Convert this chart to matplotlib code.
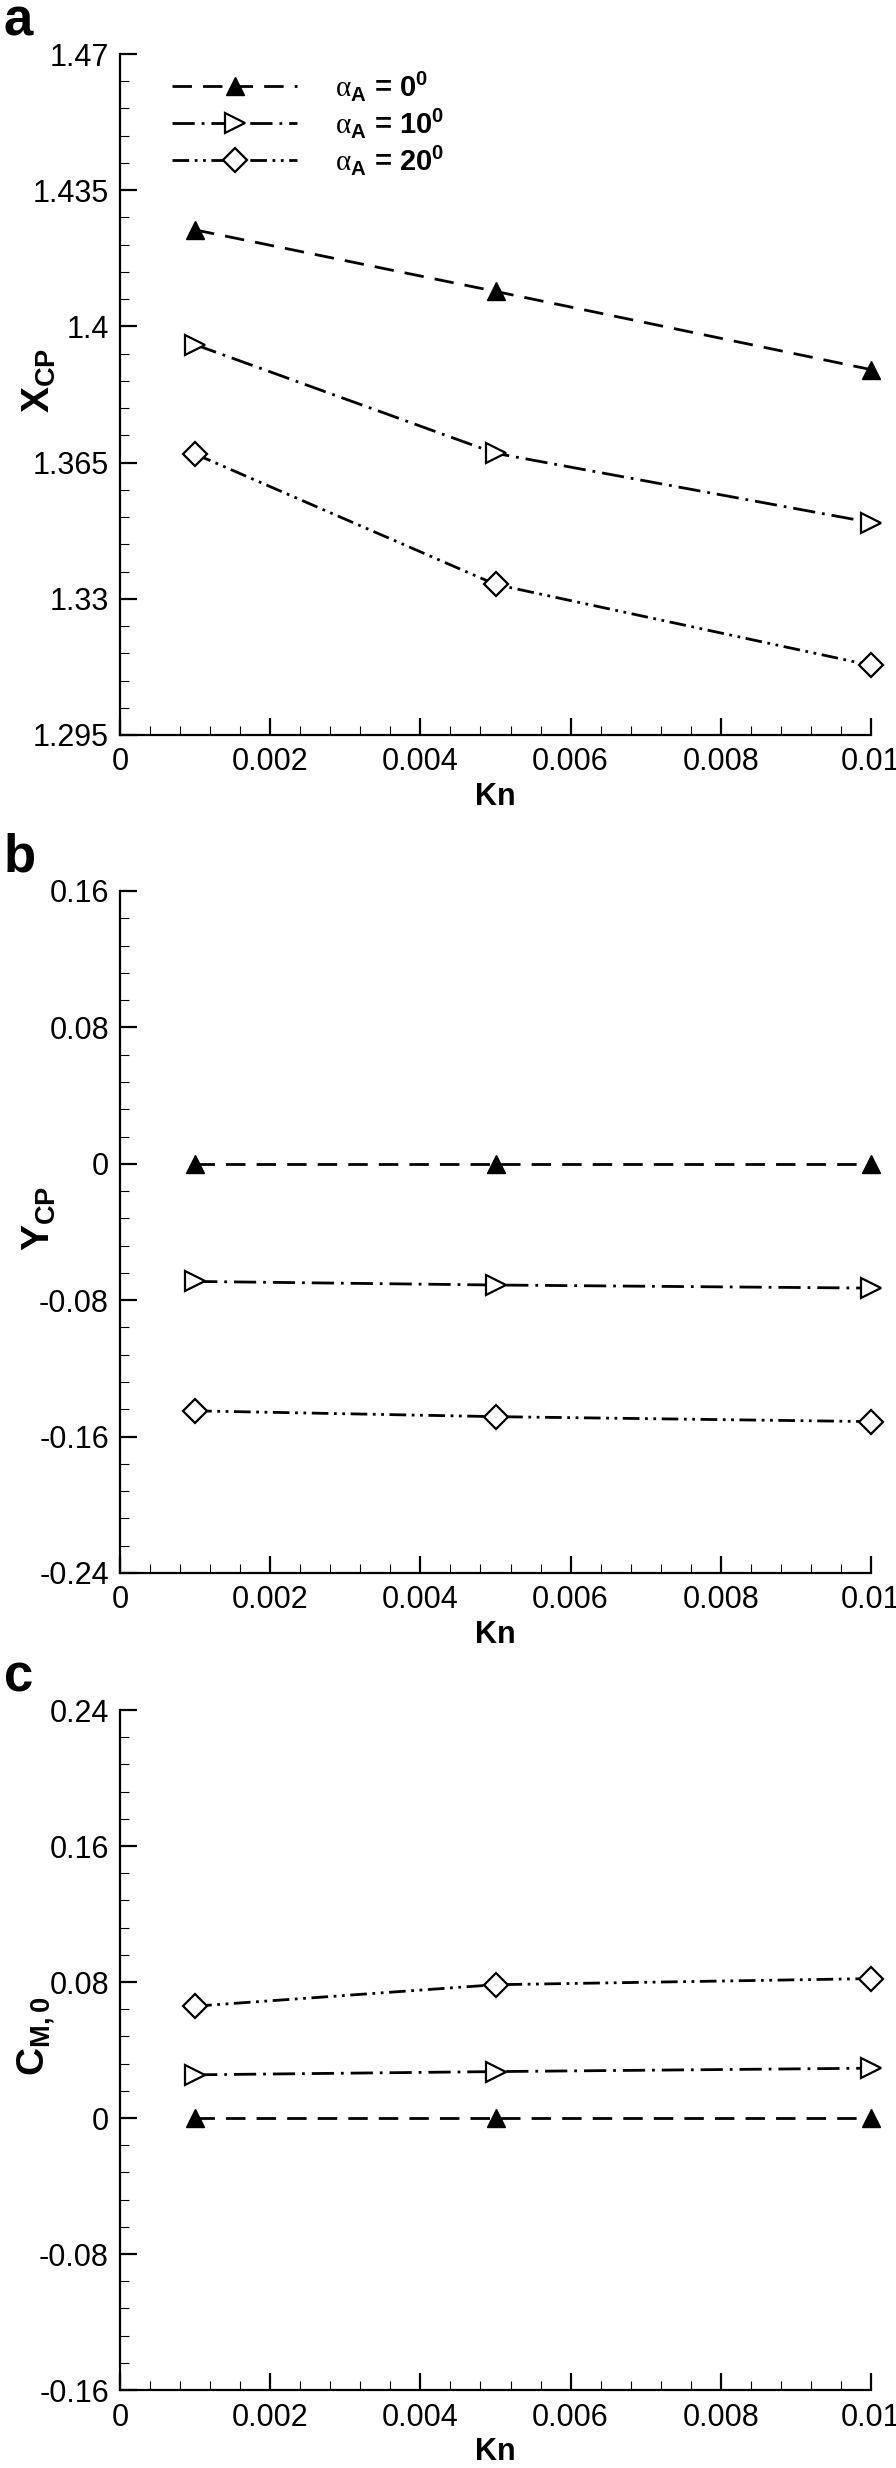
import matplotlib
matplotlib.use('Agg')
import matplotlib.pyplot as plt
from matplotlib.ticker import MultipleLocator, FuncFormatter

plt.rcParams['font.family'] = ['Liberation Sans', 'DejaVu Sans']
plt.rcParams['mathtext.fontset'] = 'custom'
plt.rcParams['mathtext.rm'] = 'Liberation Serif'
plt.rcParams['mathtext.bf'] = 'Liberation Sans:bold'
plt.rcParams['mathtext.it'] = 'Liberation Sans:italic'
plt.rcParams['lines.scale_dashes'] = False

# Knudsen numbers
kn = [0.001, 0.005, 0.01]

# panel a: X_CP
xcp_0 = [1.4248, 1.4090, 1.3889]
xcp_10 = [1.3953, 1.3674, 1.3496]
xcp_20 = [1.3672, 1.3337, 1.3129]

# panel b: Y_CP
ycp_0 = [0.0, 0.0, 0.0]
ycp_10 = [-0.0690, -0.0711, -0.0729]
ycp_20 = [-0.1449, -0.1483, -0.1512]

# panel c: C_M,0
cm_0 = [0.0, 0.0, 0.0]
cm_10 = [0.0254, 0.0273, 0.0293]
cm_20 = [0.0658, 0.0784, 0.0820]

labels = [r'$\mathrm{\alpha}_\mathbf{A}$ = $\mathbf{0^0}$',
          r'$\mathrm{\alpha}_\mathbf{A}$ = $\mathbf{10^0}$',
          r'$\mathrm{\alpha}_\mathbf{A}$ = $\mathbf{20^0}$']

styles = [
    dict(marker='^', mfc='black', mec='black', ms=13, dashes=(14, 8)),
    dict(marker='>', mfc='white', mec='black', ms=14, mew=1.6, dashes=(16, 5, 2, 5)),
    dict(marker='D', mfc='white', mec='black', ms=12, mew=1.6, dashes=(12, 4, 2, 4, 2, 4)),
]

panels = [
    ('a', [xcp_0, xcp_10, xcp_20], (1.295, 1.47), 0.035, 0.007, r'$\mathbf{X_{CP}}$'),
    ('b', [ycp_0, ycp_10, ycp_20], (-0.24, 0.16), 0.08, 0.016, r'$\mathbf{Y_{CP}}$'),
    ('c', [cm_0, cm_10, cm_20], (-0.16, 0.24), 0.08, 0.016, r'$\mathbf{C_{M,0}}$'),
]

W, H = 896, 2468
fig = plt.figure(figsize=(W / 100, H / 100), dpi=100)

# axes boxes in pixels: (top, bottom)
boxes = [(54, 735), (891, 1573), (1710, 2390)]
left_px, right_px = 120, 871
letter_base = [36, 872, 1692]

fmt = FuncFormatter(lambda v, p: f'{round(v, 5):g}')

for (letter, series, ylim, major, minor, ylabel), (top, bot), lb in zip(panels, boxes, letter_base):
    ax = fig.add_axes([left_px / W, 1 - bot / H, (right_px - left_px) / W, (bot - top) / H])
    for vals, st, lab in zip(series, styles, labels):
        ax.plot(kn, vals, color='black', lw=2, label=lab, clip_on=False, **st)
    ax.set_xlim(0, 0.01)
    ax.set_ylim(*ylim)
    ax.xaxis.set_major_locator(MultipleLocator(0.002))
    ax.xaxis.set_minor_locator(MultipleLocator(0.0004))
    ax.yaxis.set_major_locator(MultipleLocator(major))
    ax.yaxis.set_minor_locator(MultipleLocator(minor))
    ax.xaxis.set_major_formatter(fmt)
    ax.yaxis.set_major_formatter(fmt)
    for s in ['top', 'right']:
        ax.spines[s].set_visible(False)
    for s in ['left', 'bottom']:
        ax.spines[s].set_linewidth(1.6)
    ax.tick_params(which='major', direction='in', length=12, width=1.6, labelsize=22)
    ax.tick_params(axis='x', which='major', pad=9)
    ax.tick_params(axis='y', which='major', pad=8)
    ax.tick_params(which='minor', direction='in', length=6.5, width=0.8)
    ax.set_xlabel('Kn', fontsize=22, fontweight='bold', va='top')
    ax.xaxis.set_label_coords(0.5, -0.069)
    ax.set_ylabel(ylabel, fontsize=28)
    ax.yaxis.set_label_coords(-0.083, 0.52)
    fig.text(0.004, 1 - lb / H, letter, fontsize=38, fontweight='bold',
             va='baseline', ha='left')
    if letter == 'a':
        ax.legend(loc='upper left', bbox_to_anchor=(0.069, 0.978), frameon=False,
                  prop={'size': 21, 'weight': 'bold'}, handlelength=4.3,
                  handletextpad=1.3, labelspacing=0.1, borderpad=0, borderaxespad=0,
                  numpoints=1)

fig.savefig('out.png', dpi=100)
